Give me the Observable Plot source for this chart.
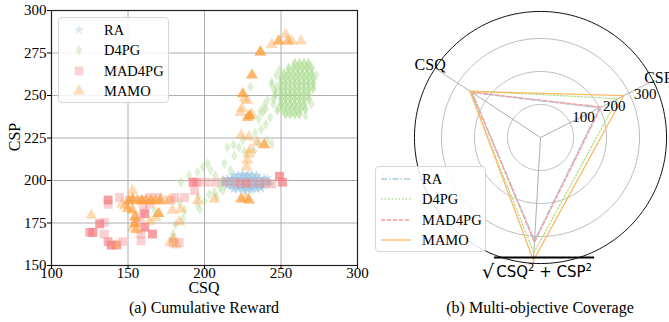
<!DOCTYPE html>
<html><head><meta charset="utf-8">
<script src="https://cdn.jsdelivr.net/npm/d3@7"></script>
<script src="https://cdn.jsdelivr.net/npm/@observablehq/plot@0.6"></script>
<style>
body{margin:0;background:#fff;}
#wrap{position:relative;width:669px;height:322px;overflow:hidden;font-family:"Liberation Serif","Times New Roman",serif;color:#000;}
.abs{position:absolute;white-space:nowrap;}
.c{transform:translate(-50%,-50%);}
.leg{position:absolute;border:1px solid #d6d6d6;border-radius:4px;background:rgba(255,255,255,0.85);box-sizing:border-box;}
.leg .t{position:absolute;font-size:14.5px;transform:translateY(-50%);white-space:nowrap;}
</style></head><body><div id="wrap"></div>
<script>
// ---------- data ----------
const seriesNames = ["RA", "D4PG", "MAD4PG", "MAMO"];
const xTicks = [100, 150, 200, 250, 300];
const yTicks = [150, 175, 200, 225, 250, 275, 300];

// [CSQ, CSP, overlap count]
const raPts = [
  [213,199,2],[216,199,2],[219,199,2],[222,199,2],[225,199,2],[228,199,2],[231,199,2],[234,199,2],[237,199,2],[240,199,2],[242,199.5,2],
  [215,201,2],[218,201,2],[221,201,2],[224,201,2],[227,201,2],[230,201,2],[233,201,2],[236,201,2],[239,201,2],
  [215,197,2],[218,197,2],[221,197,2],[224,197,2],[227,197,2],[230,197,2],[233,197,2],[236,197,2],[239,197,2],
  [219,203,2],[222,203,2],[225,203,2],[228,203,2],[231,203,2],[234,203,2],
  [219,195,2],[222,195,2],[225,195,2],[228,195,2],[231,195,2],[234,195,2],[237,195.5,2],
  [225,204,1],[229,204,1],[226,194,1],[230,194,1],[212,200.5,1],[211.5,198,1],[241,201.5,1],[243,198,1]
];
const d4pgPts = [
  [184.5,199,1],[190,203,1],[195.5,205,1],[199,208,1],[202,210,1],[204,206,1],[203,192,1],[206.5,193,1],[210,196,1],[212,200,1],[207,203,1],
  [215,219.5,1],[219,221,1],[219.5,214.5,1],[222.5,219.5,1],[225,224,1],[226,217,1],[232.5,217.5,1],[235,222,1],[235.5,236,1],[238,240,1],
  [239,244,1],[241,247,1],[246.5,251,1],[247.5,241,1],[241,223.5,1],[244,221.5,1],[237,230,1],[233,228,1],[183.5,187.5,1],[187,182.5,1],
  [186,177.5,1],[195.5,185.5,1],[197,183,1],[179.5,168.5,1],[179,166,1],[167.5,182.5,1],[171.5,190,1],[181,174,1],[196,190.5,1],[200,188,1],
  [208,190,1],[212,194,1],[217,206,1],[213,210,1],[240,233,1],[243,237,1],[245,245,1],[244,256,1],[247,262,1],[249,265,1],
  [230,255,1],[244,258,1],[246,253,1],[236.5,241,1],[240,242,1],[245,248,1],
  // dense cluster
  [259,269,2],[262,269,2],[265,269,2],[268,269,2],
  [255,266,2],[258,266,2],[261,266,2],[264,266,2],[267,266,2],[270,266,2],
  [252,263,2],[255,263,2],[258,263,2],[261,263,2],[264,263,2],[267,263,2],[270,263,2],
  [250,260,2],[253,260,2],[256,260,2],[259,260,2],[262,260,2],[265,260,2],[268,260,2],[271,260,2],
  [250,257,2],[253,257,2],[256,257,2],[259,257,2],[262,257,2],[265,257,2],[268,257,2],[271,257,2],
  [250,254,2],[253,254,2],[256,254,2],[259,254,2],[262,254,2],[265,254,2],[268,254,2],[271,254,2],
  [250,251,2],[253,251,2],[256,251,2],[259,251,2],[262,251,2],[265,251,2],[268,251,2],
  [250,248,2],[253,248,2],[256,248,2],[259,248,2],[262,248,2],[265,248,2],[268,248,2],
  [250,245,2],[253,245,2],[256,245,2],[259,245,2],[262,245,2],[265,245,2],
  [251,242,2],[254,242,2],[257,242,2],[260,242,2],[263,242,2],[266,242,2],
  [253,239,2],[256,239,2],[259,239,2],[262,239,2],
  [247,255,1],[246,250,1],[248,242,1],[266,238,1],[270,245,1],[273,262,1]
];
const mad4pgPts = [
  [249,202.5,3],[251,199,3],[244,198,1],[240,198.5,1],[236,198.5,1],[231,198.5,1],[227,198.5,2],[223.5,198.5,1],[220,199,1],[214,199,1],
  [207,199,1],[201,199,1],[192.5,199,3],[195,199,2],[193.5,194,1],[187,190,1],[180.5,190,1],[178,188.5,1],
  [137,188.5,3],[137,186,1],[131.5,174.5,3],[134.5,175.5,1],[127,169.5,3],[125,169.5,2],[134.5,168.5,1],[137,164,2],[139,162,3],
  [142.5,162,2],[146.5,164,1],[144.5,190,1],[151,188.5,1],[158.5,188.5,1],[161,180.5,3],[160,183,1],[161,172.5,3],[158.5,168.5,1],
  [158.5,164.5,1],[166,168.5,3],[164,190,1],[169.5,190,1],[179.5,163.5,1],[183.5,163.5,1],[155,176,1],[158,178,1],[164,186,1]
];
const mamoPts = [
  [244,280,1],[248.5,282,3],[253,286,1],[254.5,282,2],[257,282,1],[263,282,1],[236.5,275.5,4],[231,262,3],[225,251,3],[228,247,1],
  [226,248,1],[224.5,242.5,1],[223.5,240,1],[229.5,238,4],[228,237,2],[231,239,1],[224,226.5,1],[229,225.5,1],[239,221,3],[234.5,222.5,1],
  [229,215.5,1],[228,212,1],[227.5,208,1],[230,218,1],[224,189,3],[229,188.5,3],[227,190,1],[206.5,189,1],[195.5,188,1],
  [150.5,188,2],[153,189,3],[156,188,2],[159,188,3],[162,188,2],[165,188,3],[168,188,2],[171,188,2],[174,188,1],[177,188.5,1],
  [153,194,1],[148,185,1],[150,183.5,2],[153,182.5,2],[154.5,178.5,3],[154.5,174.5,3],[155.5,171,2],[153,172,1],[126,179.5,1],
  [146,186,1],[170,180.5,3],[168,178,1],[180,165.5,1],[181.5,162,1],[177.5,163.5,1],[184.5,183,1],[179,182.5,1],[142.5,162,1],
  [183.5,175.5,1],[164,176,1]
];

// radar: values on CSQ, CSP, sqrt(CSQ^2+CSP^2)
const radarAxes = ["CSQ", "CSP", "sqrt"];
const raRadar = [248, 200, 312];
const d4pgRadar = [258, 262, 350];
const mad4pgRadar = [250, 205, 318];
const mamoRadar = [254, 283, 373];
const radarRings = [100, 200, 300];
const radarMax = 382;

// ---------- styles ----------
const colors = {RA: "#94c4e0", D4PG: "#a6d98a", MAD4PG: "#f57f85", MAMO: "#fd9d3a"};
const lineColors = {RA: "#a6cee3", D4PG: "#b2df8a", MAD4PG: "#fb9a99", MAMO: "#fdb863"};
const dashes = {RA: "6,2,1.5,2", D4PG: "1.5,2", MAD4PG: "4,2", MAMO: null};
const thinDiamond = {draw(ctx, size) { const r = Math.sqrt(size / Math.PI); ctx.moveTo(0, -r*1.3); ctx.lineTo(r*0.75, 0); ctx.lineTo(0, r*1.3); ctx.lineTo(-r*0.75, 0); ctx.closePath(); }};
const symbols = {RA: d3.symbolStar, D4PG: thinDiamond, MAD4PG: d3.symbolSquare, MAMO: d3.symbolTriangle};
const radii = {RA: 3.3, D4PG: 4.2, MAD4PG: 5, MAMO: 4.4};
const op = d => 1 - Math.pow(0.63, d[2]);

const wrap = document.getElementById("wrap");
const serif = '"Liberation Serif","Times New Roman",serif';

// ---------- left scatter ----------
const ptsBy = {RA: raPts, D4PG: d4pgPts, MAD4PG: mad4pgPts, MAMO: mamoPts};
const left = Plot.plot({
  width: 372, height: 322, marginLeft: 51, marginRight: 15, marginTop: 10, marginBottom: 57,
  style: {fontFamily: serif, fontSize: "15px", background: "transparent", overflow: "visible"},
  x: {domain: [100, 300]},
  y: {domain: [150, 300]},
  marks: [
    Plot.gridX(xTicks, {stroke: "#b0b0b0", strokeOpacity: 1, strokeWidth: 1}),
    Plot.gridY(yTicks, {stroke: "#b0b0b0", strokeOpacity: 1, strokeWidth: 1}),
    ...seriesNames.map(s => Plot.dot(ptsBy[s], {x: d => d[0], y: d => d[1], r: radii[s], symbol: symbols[s], fill: colors[s], fillOpacity: op, stroke: "none"})),
    Plot.frame({stroke: "#222", strokeWidth: 1.2}),
    Plot.axisX(xTicks, {tickSize: 4, tickPadding: -2, label: null, fontSize: 15}),
    Plot.axisY(yTicks, {tickSize: 4, tickPadding: 1, label: null, fontSize: 15})
  ]
});
left.style.position = "absolute"; left.style.left = "0px"; left.style.top = "0px";
wrap.appendChild(left);

// ---------- radar ----------
const k = 0.33; // px per unit
const cx = 180, cy = 137, W = 309, H = 322;
const angles = [146.7, 26.7, 266.7];
const pol = (r, a) => [r * Math.cos(a * Math.PI / 180), r * Math.sin(a * Math.PI / 180)];
const ringPts = [];
for (const r of [...radarRings, radarMax]) for (let a = 0; a <= 360; a += 2) { const p = pol(r, a); ringPts.push({r, x: p[0], y: p[1]}); }
const spokes = angles.map(a => { const p = pol(radarMax, a); return {x: p[0], y: p[1]}; });
const radarBy = {RA: raRadar, D4PG: d4pgRadar, MAD4PG: mad4pgRadar, MAMO: mamoRadar};
const poly = s => [0, 1, 2, 0].map(i => { const p = pol(radarBy[s][i], angles[i]); return {x: p[0], y: p[1]}; });
const rLabels = radarRings.map(r => { const p = pol(r, 21); return {x: p[0], y: p[1], t: String(r)}; });
const axLabels = [0, 1].map(i => { const p = pol(400, angles[i]); return {x: p[0], y: p[1], t: radarAxes[i]}; });

const radar = Plot.plot({
  width: W, height: H, margin: 0,
  style: {fontFamily: serif, fontSize: "15px", background: "transparent", overflow: "visible"},
  x: {domain: [-cx / k, (W - cx) / k], range: [0, W], axis: null},
  y: {domain: [-(H - cy) / k, cy / k], range: [H, 0], axis: null},
  marks: [
    Plot.line(ringPts.filter(d => d.r !== radarMax), {x: "x", y: "y", z: "r", stroke: "#bdbdbd", strokeWidth: 1}),
    Plot.link(spokes, {x1: 0, y1: 0, x2: "x", y2: "y", stroke: "#b0b0b0", strokeWidth: 1}),
    Plot.line(ringPts.filter(d => d.r === radarMax), {x: "x", y: "y", stroke: "#111", strokeWidth: 1}),
    ...seriesNames.map(s => Plot.line(poly(s), {x: "x", y: "y", stroke: lineColors[s], strokeWidth: 1.3, strokeDasharray: dashes[s]})),
    Plot.text(rLabels, {x: "x", y: "y", text: "t", textAnchor: "start", dx: 1, dy: -8, fontSize: 15, fill: "#000"}),
    Plot.text(axLabels, {x: "x", y: "y", text: "t", fontSize: 16, fill: "#000"})
  ]
});
radar.style.position = "absolute"; radar.style.left = "360px"; radar.style.top = "0px";
wrap.appendChild(radar);

// ---------- texts ----------
function addText(html, x, y, size, extra = "") {
  const d = document.createElement("div");
  d.className = "abs c"; d.style.left = x + "px"; d.style.top = y + "px"; d.style.fontSize = size + "px";
  d.style.cssText += extra; d.innerHTML = html; wrap.appendChild(d); return d;
}
addText("CSQ", 204, 288, 16);
addText("CSP", 14.5, 137, 16, "transform:translate(-50%,-50%) rotate(-90deg);");
addText("(a) Cumulative Reward", 204, 308, 16);
addText("(b) Multi-objective Coverage", 540, 308, 16);
addText('<span style="font-size:19px;vertical-align:-1px;">&#8730;</span><span style="border-top:2px solid #000;padding:6px 2px 0 2px;display:inline-block;line-height:1;">CSQ<sup style="font-size:10px;vertical-align:6px;line-height:0">2</sup> + CSP<sup style="font-size:10px;vertical-align:6px;line-height:0">2</sup></span>',
  538, 269, 15, 'font-family:"DejaVu Sans",sans-serif;');

// ---------- legends ----------
function legend(x, y, kind) {
  const box = document.createElement("div");
  box.className = "leg"; box.style.left = x + "px"; box.style.top = y + "px"; box.style.width = "111px"; box.style.height = "86px";
  seriesNames.forEach((s, i) => {
    const ry = 12 + i * 20.3;
    const sv = document.createElementNS("http://www.w3.org/2000/svg", "svg");
    sv.setAttribute("width", 34); sv.setAttribute("height", 16);
    sv.style.position = "absolute"; sv.style.top = (ry - 8) + "px";
    if (kind === "dot") {
      sv.style.left = "3px";
      const p = document.createElementNS("http://www.w3.org/2000/svg", "path");
      p.setAttribute("d", d3.symbol(symbols[s], Math.PI * radii[s] * radii[s])());
      p.setAttribute("transform", "translate(17,8)");
      p.setAttribute("fill", colors[s]); p.setAttribute("fill-opacity", 0.35);
      sv.appendChild(p);
    } else {
      sv.style.left = "4px";
      const l = document.createElementNS("http://www.w3.org/2000/svg", "line");
      l.setAttribute("x1", 1); l.setAttribute("x2", 31); l.setAttribute("y1", 8); l.setAttribute("y2", 8);
      l.setAttribute("stroke", lineColors[s]); l.setAttribute("stroke-width", 1.3);
      if (dashes[s]) l.setAttribute("stroke-dasharray", dashes[s]);
      sv.appendChild(l);
    }
    box.appendChild(sv);
    const t = document.createElement("div"); t.className = "t"; t.textContent = s;
    t.style.left = (kind === "dot" ? 45 : 46) + "px"; t.style.top = ry + "px";
    box.appendChild(t);
  });
  wrap.appendChild(box);
}
legend(58, 17, "dot");
legend(375, 166, "line");
</script></body></html>
